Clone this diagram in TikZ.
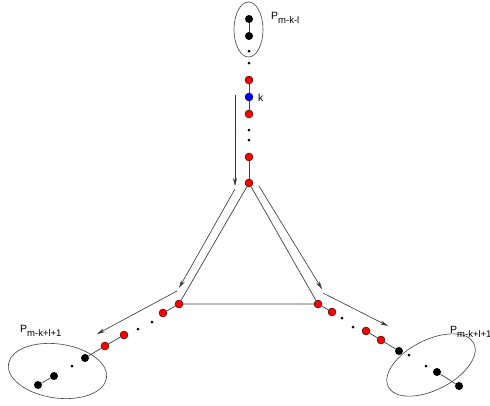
\documentclass[tikz,border=0pt]{standalone}
\usepackage{fontspec}
\setmainfont{Liberation Sans}
\usetikzlibrary{arrows.meta}
\tikzset{
  rn/.style={circle,draw=black,line width=0.4pt,fill=red,inner sep=0pt,minimum size=8pt},
  bn/.style={circle,fill=blue,draw=black,line width=0.4pt,inner sep=0pt,minimum size=8pt},
  kn/.style={circle,fill=black,inner sep=0pt,minimum size=8pt},
  dn/.style={circle,fill=black,inner sep=0pt,minimum size=3pt},
  edge/.style={draw=black!75,line width=0.7pt},
  arr/.style={draw=black!80,line width=0.6pt,-{Stealth[length=8pt,width=4pt]}},
  oval/.style={draw=black!75,line width=0.6pt},
  lab/.style={font=\fontsize{10.5}{12}\selectfont,inner sep=0pt,anchor=west}
}
\newcommand{\Psub}[1]{P\raisebox{-3.5pt}{\fontsize{9.5}{10}\selectfont #1}}
\begin{document}
\begin{tikzpicture}[x=1pt,y=-1pt]
\useasboundingbox (0,0) rectangle (490,405);
% top branch
\draw[oval] (248.5,29.5) ellipse [x radius=14.5,y radius=27.5];
\node[kn] (t1) at (249,19) {};
\node[kn] (t2) at (249,36) {};
\node[dn] (t3) at (249,51) {};
\node[dn] (t4) at (249,63) {};
\node[rn] (t5) at (249,80) {};
\node[bn] (t6) at (249,97) {};
\node[rn] (t7) at (249,114) {};
\node[dn] (t8) at (249,130) {};
\node[dn] (t9) at (249,140) {};
\node[rn] (t10) at (249,157) {};
\node[lab] at (271,18) {\Psub{m-k-l}};
\node[lab] at (258,98) {k};
% triangle corners
\node[rn] (A) at (249,183) {};
\node[rn] (B) at (179,304) {};
\node[rn] (C) at (318,304) {};
% left branch
\node[rn] (l1) at (163,313) {};
\node[dn] (l2) at (152,322) {};
\node[dn] (l3) at (138,329) {};
\node[rn] (l4) at (124,335) {};
\node[rn] (l5) at (105,346) {};
\node[kn] (l6) at (85,358) {};
\node[dn] (l7) at (72,366) {};
\node[kn] (l8) at (54,376) {};
\node[kn] (l9) at (38,385) {};
\draw[oval] (57.5,371) ellipse [x radius=49.5,y radius=27,rotate=-8];
\node[lab] at (20,331) {\Psub{m-k+l+1}};
% right branch
\node[rn] (r1) at (332,312) {};
\node[dn] (r2) at (342,318) {};
\node[dn] (r3) at (353,327) {};
\node[rn] (r4) at (366,331) {};
\node[rn] (r5) at (381,340) {};
\node[kn] (r6) at (399,351) {};
\node[dn] (r7) at (409,355) {};
\node[dn] (r8) at (426,366) {};
\node[kn] (r9) at (437,372) {};
\node[kn] (r10) at (459,386) {};
\draw[oval] (431,365) ellipse [x radius=48,y radius=25,rotate=27];
\node[lab] at (450,332) {\Psub{m-k+l+1}};
% edges
\draw[edge] (t1) -- (t2);
\draw[edge] (t5) -- (t6) -- (t7);
\draw[edge] (t10) -- (A);
\draw[edge] (A) -- (B) -- (C) -- (A);
\draw[edge] (B) -- (l1);
\draw[edge] (l4) -- (l5) -- (l6);
\draw[edge] (l8) -- (l9);
\draw[edge] (C) -- (r1);
\draw[edge] (r4) -- (r5) -- (r6);
\draw[edge] (r9) -- (r10);
% arrows
\coordinate (a0) at (235,95);
\coordinate (a1) at (235,186);
\coordinate (a2) at (235,189);
\coordinate (a3) at (179,288);
\coordinate (a4) at (177,291);
\coordinate (a5) at (97,334);
\coordinate (b0) at (259,186);
\coordinate (b1) at (322,289);
\coordinate (b2) at (323,293);
\coordinate (b3) at (388,326);
\draw[arr] (a0) -- (a1);
\draw[arr] (a2) -- (a3);
\draw[arr] (a4) -- (a5);
\draw[arr] (b0) -- (b1);
\draw[arr] (b2) -- (b3);
\end{tikzpicture}
\end{document}
